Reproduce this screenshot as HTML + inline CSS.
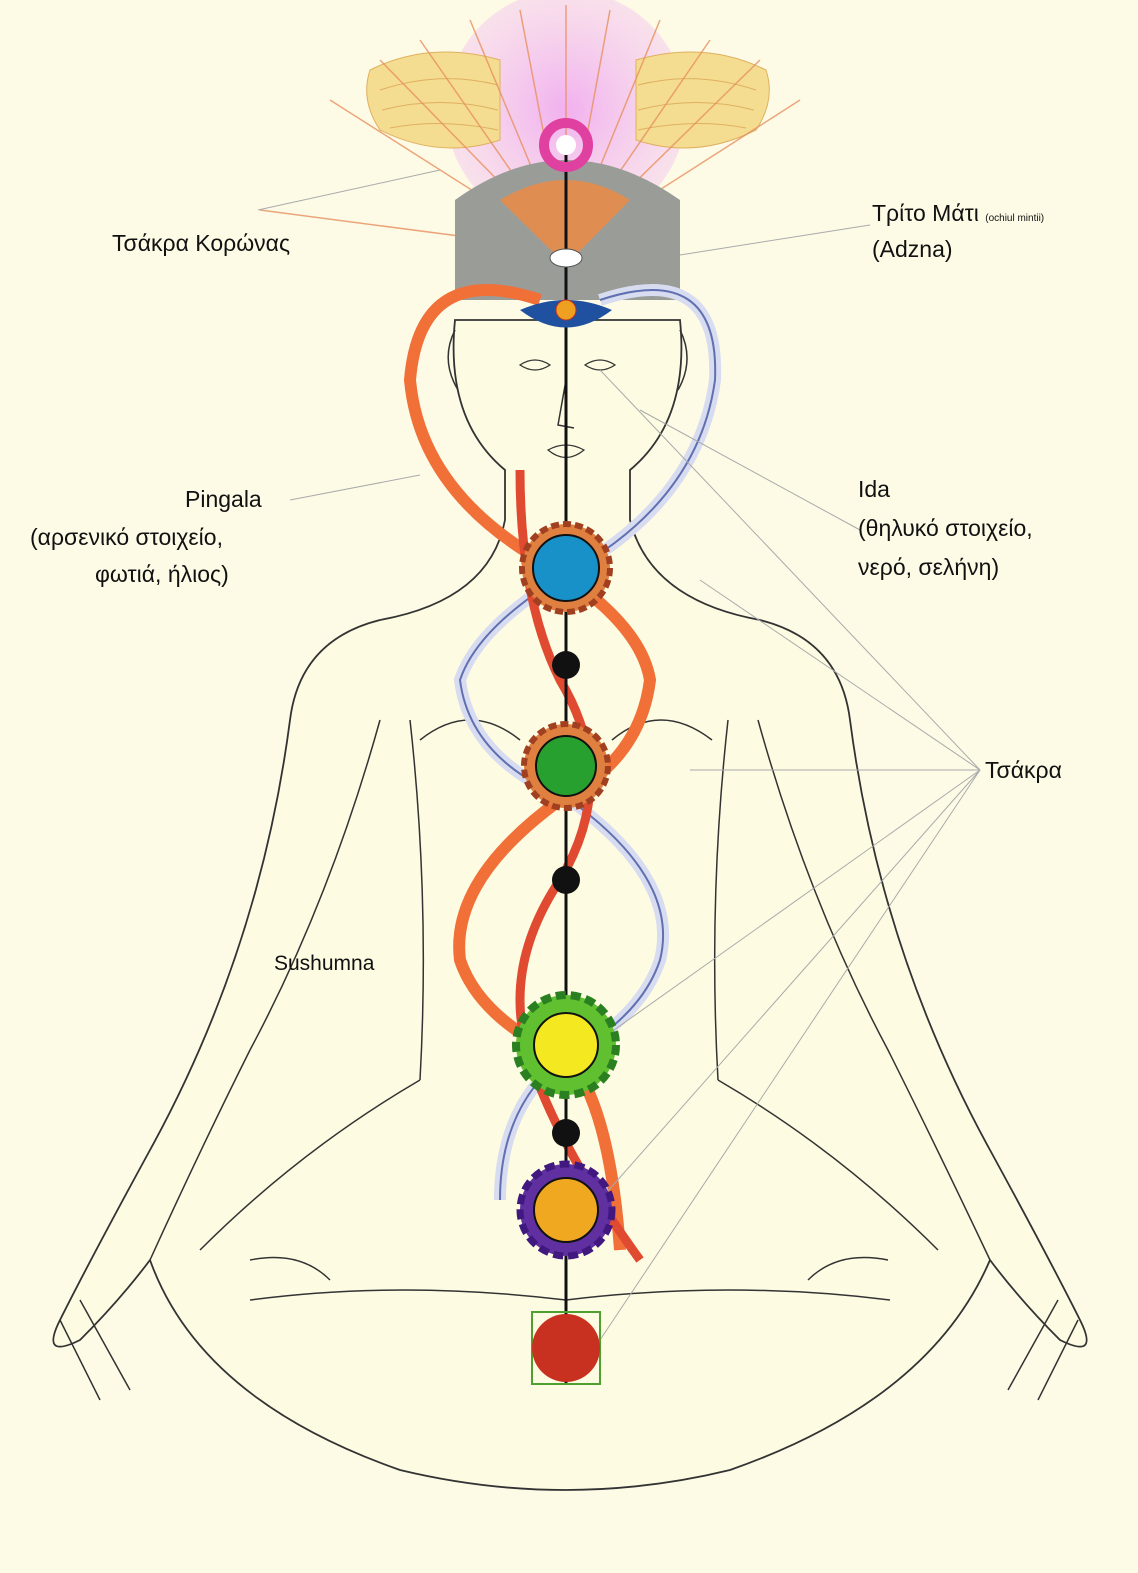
<!DOCTYPE html>
<html><head><meta charset="utf-8"><style>
html,body{margin:0;padding:0;background:#fdfbe6;}
svg{display:block}
text{font-family:"Liberation Sans",sans-serif;fill:#111;}
</style></head><body>
<svg width="1138" height="1573" viewBox="0 0 1138 1573" xmlns="http://www.w3.org/2000/svg">
<defs>
<radialGradient id="glow" cx="0.5" cy="0.5" r="0.5">
<stop offset="0" stop-color="#f0a8f0" stop-opacity="0.9"/><stop offset="1" stop-color="#f4c8f0" stop-opacity="0.5"/></radialGradient>
</defs>
<rect width="1138" height="1573" fill="#fdfbe6"/>
<circle cx="566" cy="110" r="120" fill="url(#glow)"/>
<path d="M370 70 Q430 40 500 60 L500 140 Q440 160 380 130 Q360 100 370 70Z" fill="#f4dc90" stroke="#e0b060"/>
<path d="M766 70 Q706 40 636 60 L636 140 Q696 160 756 130 Q776 100 766 70Z" fill="#f4dc90" stroke="#e0b060"/>
<g stroke="#e0b060" stroke-width="1" fill="none">
<path d="M380 90 Q440 70 498 85 M382 110 Q440 95 498 110 M390 128 Q440 118 498 130"/>
<path d="M756 90 Q696 70 638 85 M754 110 Q696 95 638 110 M746 128 Q696 118 638 130"/>
</g>
<g stroke="#e89060" stroke-width="1.5" opacity="0.8">
<line x1="566" y1="250" x2="380" y2="60"/><line x1="566" y1="250" x2="420" y2="40"/><line x1="566" y1="250" x2="470" y2="20"/>
<line x1="566" y1="250" x2="520" y2="10"/><line x1="566" y1="250" x2="566" y2="5"/><line x1="566" y1="250" x2="610" y2="10"/>
<line x1="566" y1="250" x2="660" y2="20"/><line x1="566" y1="250" x2="710" y2="40"/><line x1="566" y1="250" x2="760" y2="60"/>
<line x1="566" y1="250" x2="800" y2="100"/><line x1="566" y1="250" x2="330" y2="100"/><line x1="566" y1="250" x2="260" y2="210"/>
</g>
<path d="M455 300 L455 200 Q566 120 680 200 L680 300 Z" fill="#9a9c98"/>
<path d="M500 200 Q566 160 630 200 L566 265Z" fill="#f08a40" opacity="0.8"/>
<g fill="#fdfbe2" stroke="#333" stroke-width="1.8">
<path d="M380 620 Q300 640 290 720 Q260 950 150 1150 Q90 1260 60 1320 Q40 1360 80 1340 Q120 1300 150 1260 Q200 1400 400 1470 Q566 1510 730 1470 Q930 1400 990 1260 Q1020 1300 1060 1340 Q1100 1360 1080 1320 Q1050 1260 990 1150 Q880 950 850 720 Q840 640 760 620 Q650 600 630 520 L630 470 Q690 420 680 320 L455 320 Q445 420 505 470 L505 520 Q490 600 380 620Z"/>
</g>
<g stroke="#333" fill="none" stroke-width="1.5">
<path d="M250 1300 Q400 1280 566 1300 Q730 1280 890 1300"/>
<path d="M420 740 Q470 700 520 740 M612 740 Q660 700 712 740"/>
<path d="M380 720 Q330 900 250 1050 Q200 1150 150 1260"/>
<path d="M758 720 Q808 900 888 1050 Q938 1150 990 1260"/>
<path d="M410 720 Q430 900 420 1080 M728 720 Q708 900 718 1080"/>
<path d="M420 1080 Q300 1150 200 1250 M718 1080 Q838 1150 938 1250"/>
<path d="M250 1260 Q300 1250 330 1280 M888 1260 Q838 1250 808 1280"/>
<path d="M60 1320 L100 1400 M80 1300 L130 1390 M1078 1320 L1038 1400 M1058 1300 L1008 1390"/>
<path d="M455 330 Q440 360 458 390 M680 330 Q695 360 678 390"/>
<path d="M566 380 L558 425 L574 428"/>
</g>
<g stroke="#333" fill="none" stroke-width="1.2">
<path d="M520 365 Q535 355 550 365 Q535 375 520 365Z M585 365 Q600 355 615 365 Q600 375 585 365Z"/>
<path d="M548 450 Q566 440 584 450 Q566 465 548 450Z"/>
</g>
<g fill="none" stroke-width="12">
<path d="M540 300 Q420 260 410 380 Q420 490 540 560 Q640 620 650 680 Q640 760 560 800 Q450 880 460 960 Q480 1020 570 1060 Q610 1110 620 1250" stroke="#f07038"/>
<path d="M600 300 Q720 260 715 380 Q700 490 590 560 Q480 620 460 680 Q470 760 570 800 Q680 880 660 960 Q640 1020 560 1060 Q500 1110 500 1200" stroke="#d8dcf0"/>
<path d="M600 300 Q720 260 715 380 Q700 490 590 560 Q480 620 460 680 Q470 760 570 800 Q680 880 660 960 Q640 1020 560 1060 Q500 1110 500 1200" stroke="#6070b0" stroke-width="2"/>
<path d="M520 470 Q520 600 560 680 Q620 780 560 880 Q500 970 530 1060 Q560 1150 640 1260" stroke="#e04a30" stroke-width="9"/>
</g>
<line x1="566" y1="140" x2="566" y2="1385" stroke="#111" stroke-width="3"/>
<g stroke="#aaa" stroke-width="1">
<line x1="680" y1="255" x2="870" y2="225"/><line x1="258" y1="210" x2="440" y2="170"/>
<line x1="980" y1="770" x2="600" y2="370"/><line x1="980" y1="770" x2="700" y2="580"/><line x1="980" y1="770" x2="690" y2="770"/>
<line x1="980" y1="770" x2="600" y2="1040"/><line x1="980" y1="770" x2="600" y2="1200"/><line x1="980" y1="770" x2="600" y2="1340"/>
<line x1="860" y1="530" x2="640" y2="410"/><line x1="420" y1="475" x2="290" y2="500"/>
</g>
<circle cx="566" cy="145" r="22" fill="none" stroke="#e040a0" stroke-width="10"/>
<circle cx="566" cy="145" r="10" fill="#fff"/>
<ellipse cx="566" cy="258" rx="16" ry="9" fill="#fff" stroke="#555"/>
<path d="M520 310 Q566 290 612 310 Q566 345 520 310Z" fill="#2050a0"/>
<circle cx="566" cy="310" r="10" fill="#f0a020" stroke="#c03020"/>
<circle cx="566" cy="568" r="44" fill="#e08040" stroke="#a04020" stroke-dasharray="8 4" stroke-width="6"/>
<circle cx="566" cy="568" r="33" fill="#1890c8" stroke="#111" stroke-width="2"/>
<circle cx="566" cy="665" r="14" fill="#111"/>
<circle cx="566" cy="766" r="42" fill="#e08040" stroke="#a04020" stroke-dasharray="8 4" stroke-width="6"/>
<circle cx="566" cy="766" r="30" fill="#28a030" stroke="#111" stroke-width="2"/>
<circle cx="566" cy="880" r="14" fill="#111"/>
<circle cx="566" cy="1045" r="50" fill="#60c030" stroke="#2a8020" stroke-dasharray="10 5" stroke-width="8"/>
<circle cx="566" cy="1045" r="32" fill="#f4e820" stroke="#111" stroke-width="2"/>
<circle cx="566" cy="1133" r="14" fill="#111"/>
<circle cx="566" cy="1210" r="46" fill="#6030a0" stroke="#401880" stroke-dasharray="10 5" stroke-width="7"/>
<circle cx="566" cy="1210" r="32" fill="#f0a820" stroke="#111" stroke-width="2"/>
<rect x="532" y="1312" width="68" height="72" fill="none" stroke="#50a030" stroke-width="2"/>
<circle cx="566" cy="1348" r="34" fill="#c83020"/>
<text x="112" y="251" font-size="23">Τσάκρα Κορώνας</text>
<text x="872" y="221" font-size="23">Τρίτο Μάτι <tspan font-size="10">(ochiul mintii)</tspan></text>
<text x="872" y="257" font-size="23">(Adzna)</text>
<text x="185" y="507" font-size="23">Pingala</text>
<text x="30" y="545" font-size="23">(αρσενικό στοιχείο,</text>
<text x="95" y="582" font-size="23">φωτιά, ήλιος)</text>
<text x="858" y="497" font-size="23">Ida</text>
<text x="858" y="536" font-size="23">(θηλυκό στοιχείο,</text>
<text x="858" y="575" font-size="23">νερό, σελήνη)</text>
<text x="985" y="778" font-size="23">Τσάκρα</text>
<text x="274" y="970" font-size="21">Sushumna</text>
</svg>
</body></html>
